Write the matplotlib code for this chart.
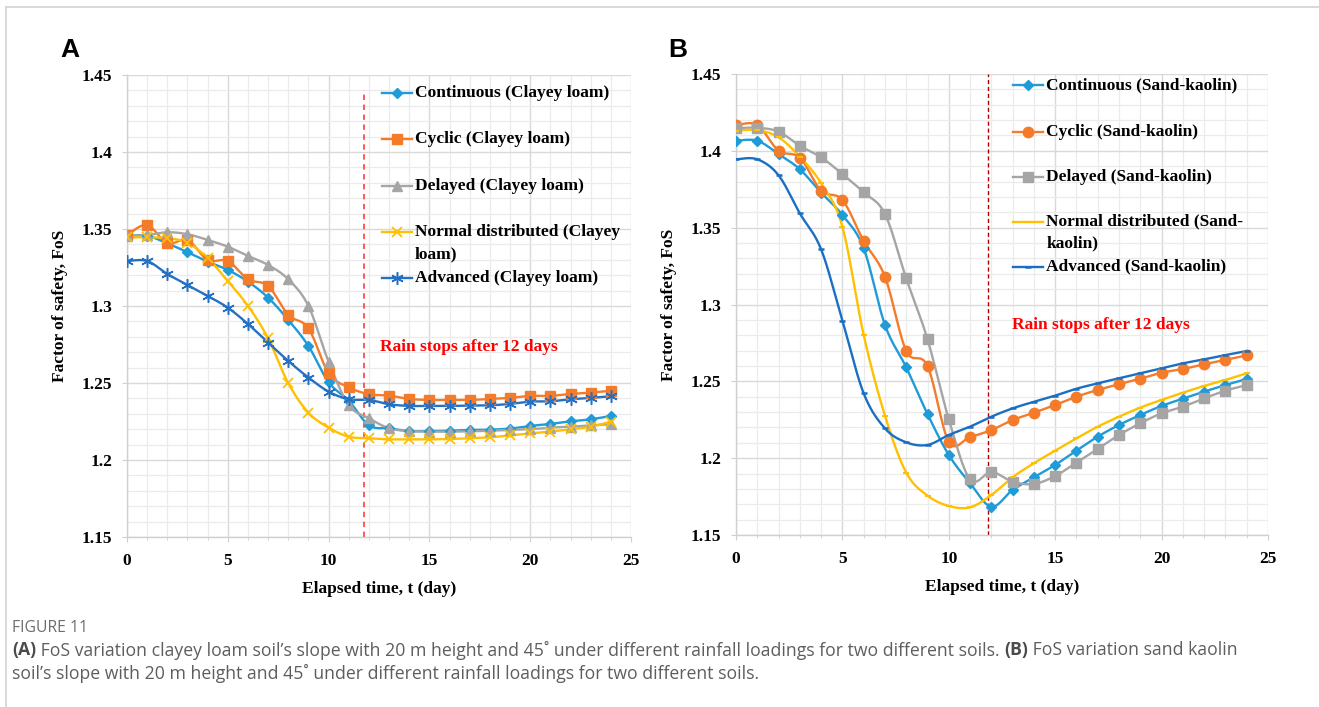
import numpy as np
import matplotlib
matplotlib.use("Agg")
import matplotlib.pyplot as plt
from matplotlib.lines import Line2D
from matplotlib.ticker import MultipleLocator, FuncFormatter

# ==========================================
# DATOS
# ==========================================
days = list(range(25))

# Panel A - Clayey loam
cont_A = [1.3455, 1.3455, 1.3407, 1.3349, 1.3288, 1.3234, 1.3158, 1.3054, 1.2909, 1.2740, 1.2505, 1.2385, 1.2225,
          1.2206, 1.2188, 1.2188, 1.2190, 1.2195, 1.2197, 1.2204, 1.2221, 1.2234, 1.2251, 1.2264, 1.2286]
cyc_A = [1.3461, 1.3526, 1.3407, 1.3429, 1.3299, 1.3292, 1.3173, 1.3130, 1.2942, 1.2855, 1.2563, 1.2472, 1.2427,
         1.2418, 1.2396, 1.2390, 1.2390, 1.2390, 1.2396, 1.2403, 1.2416, 1.2416, 1.2429, 1.2437, 1.2450]
del_A = [1.3455, 1.3460, 1.3479, 1.3466, 1.3429, 1.3385, 1.3325, 1.3266, 1.3173, 1.3000, 1.2638, 1.2357, 1.2271,
         1.2206, 1.2188, 1.2184, 1.2184, 1.2186, 1.2190, 1.2195, 1.2200, 1.2210, 1.2216, 1.2225, 1.2232]
norm_A = [1.3446, 1.3446, 1.3440, 1.3411, 1.3310, 1.3162, 1.3000, 1.2790, 1.2498, 1.2307, 1.2210, 1.2151, 1.2141,
          1.2134, 1.2134, 1.2134, 1.2136, 1.2141, 1.2147, 1.2160, 1.2173, 1.2184, 1.2200, 1.2216, 1.2249]
adv_A = [1.3292, 1.3292, 1.3208, 1.3136, 1.3065, 1.2989, 1.2883, 1.2762, 1.2643, 1.2535, 1.2444, 1.2394, 1.2390,
         1.2362, 1.2351, 1.2351, 1.2351, 1.2353, 1.2355, 1.2364, 1.2379, 1.2381, 1.2394, 1.2403, 1.2414]

# Panel B - Sand-kaolin
cont_B = [1.4066, 1.4066, 1.3979, 1.3880, 1.3728, 1.3582, 1.3366, 1.2867, 1.2591, 1.2287, 1.2021, 1.1837, 1.1684,
          1.1793, 1.1876, 1.1956, 1.2049, 1.2140, 1.2216, 1.2281, 1.2340, 1.2387, 1.2433, 1.2476, 1.2515]
cyc_B = [1.4168, 1.4168, 1.4001, 1.3955, 1.3741, 1.3680, 1.3413, 1.3181, 1.2699, 1.2600, 1.2107, 1.2138, 1.2183,
         1.2248, 1.2296, 1.2346, 1.2400, 1.2444, 1.2481, 1.2517, 1.2556, 1.2580, 1.2611, 1.2639, 1.2669]
del_B = [1.4147, 1.4150, 1.4125, 1.4033, 1.3958, 1.3849, 1.3730, 1.3589, 1.3170, 1.2774, 1.2253, 1.1862, 1.1910,
         1.1847, 1.1832, 1.1884, 1.1971, 1.2060, 1.2151, 1.2227, 1.2292, 1.2335, 1.2389, 1.2439, 1.2476]
norm_B = [1.4131, 1.4135, 1.4088, 1.3962, 1.3789, 1.3506, 1.2802, 1.2277, 1.1906, 1.1756, 1.1689, 1.1680, 1.1760,
          1.1876, 1.1967, 1.2049, 1.2129, 1.2205, 1.2270, 1.2329, 1.2379, 1.2426, 1.2470, 1.2509, 1.2552]
adv_B = [1.3945, 1.3945, 1.3841, 1.3593, 1.3359, 1.2895, 1.2422, 1.2194, 1.2103, 1.2086, 1.2151, 1.2205, 1.2270,
         1.2324, 1.2367, 1.2407, 1.2452, 1.2487, 1.2520, 1.2552, 1.2585, 1.2617, 1.2643, 1.2671, 1.2697]

labels_A = ["Continuous (Clayey loam)", "Cyclic (Clayey loam)", "Delayed (Clayey loam)",
            "Normal distributed (Clayey\nloam)", "Advanced (Clayey loam)"]
labels_B = ["Continuous (Sand-kaolin)", "Cyclic (Sand-kaolin)", "Delayed (Sand-kaolin)",
            "Normal distributed (Sand-\nkaolin)", "Advanced (Sand-kaolin)"]

RAIN_STOP_A = 11.75
RAIN_STOP_B = 11.85
RAIN_TEXT = "Rain stops after 12 days"

# estilos: (color, marker, markersize, markeredgewidth)
STYLES_A = [("#1F9BD7", "D", 5.5, 1), ("#F47B2A", "s", 6.5, 1), ("#A5A5A5", "^", 7, 1),
            ("#FFC000", "x", 7, 1.3), ("#2471C4", (6, 2, 0), 9, 1.1)]
STYLES_B = [("#1F9BD7", "D", 5.5, 1), ("#F47B2A", "o", 7.5, 1), ("#A5A5A5", "s", 7.5, 1),
            ("#FFC000", "_", 5, 1.5), ("#1B6FC2", "_", 5, 1.8)]

SERIF = "Liberation Serif"
FS = 12.5


def smooth(x, y, n=16):
    # curva suavizada tipo Excel (Bezier con puntos de control 1/6)
    x = np.asarray(x, float)
    y = np.asarray(y, float)
    px = np.concatenate([[x[0]], x, [x[-1]]])
    py = np.concatenate([[y[0]], y, [y[-1]]])
    t = np.linspace(0, 1, n, endpoint=False)
    xs, ys = [], []
    for i in range(len(x) - 1):
        p0 = np.array([px[i], py[i]])
        p1 = np.array([px[i + 1], py[i + 1]])
        p2 = np.array([px[i + 2], py[i + 2]])
        p3 = np.array([px[i + 3], py[i + 3]])
        c1 = p1 + (p2 - p0) / 6
        c2 = p2 - (p3 - p1) / 6
        b = ((1 - t) ** 3)[:, None] * p1 + (3 * (1 - t) ** 2 * t)[:, None] * c1 \
            + (3 * (1 - t) * t ** 2)[:, None] * c2 + (t ** 3)[:, None] * p2
        xs.extend(b[:, 0])
        ys.extend(b[:, 1])
    xs.append(x[-1])
    ys.append(y[-1])
    return np.array(xs), np.array(ys)


def style_axes(ax):
    ax.set_xlim(0, 25)
    ax.set_ylim(1.15, 1.45)
    ax.xaxis.set_major_locator(MultipleLocator(5))
    ax.xaxis.set_minor_locator(MultipleLocator(1))
    ax.yaxis.set_major_locator(MultipleLocator(0.05))
    ax.yaxis.set_minor_locator(MultipleLocator(0.01))
    ax.yaxis.set_major_formatter(FuncFormatter(lambda v, p: "%g" % round(v, 2)))
    ax.grid(which="major", color="#D9D9D9", lw=1.0)
    ax.grid(which="minor", color="#EBEBEB", lw=0.9)
    ax.set_axisbelow(True)
    for s in ["top", "right"]:
        ax.spines[s].set_visible(False)
    for s in ["left", "bottom"]:
        ax.spines[s].set_color("#D0D0D0")
        ax.spines[s].set_linewidth(1.0)
    ax.tick_params(axis="both", which="both", color="#D0D0D0", direction="out")
    ax.tick_params(axis="y", which="major", length=3.5, pad=7)
    ax.tick_params(axis="y", which="minor", length=0)
    ax.tick_params(axis="x", which="major", length=3.5, pad=8)
    ax.tick_params(axis="x", which="minor", length=2.5)
    for lab in ax.get_xticklabels() + ax.get_yticklabels():
        lab.set_fontfamily(SERIF)
        lab.set_fontweight("bold")
        lab.set_fontsize(FS)
    ax.set_xlabel("Elapsed time, t (day)", fontfamily=SERIF, fontweight="bold", fontsize=FS, labelpad=9)
    ax.set_ylabel("Factor of safety, FoS", fontfamily=SERIF, fontweight="bold", fontsize=FS, labelpad=10)


def draw_series(ax, series, styles):
    for y, (c, m, ms, mew) in zip(series, styles):
        sx, sy = smooth(days, y)
        ax.plot(sx, sy, color=c, lw=1.7, zorder=3)
        ax.plot(days, y, ls="none", marker=m, ms=ms, color=c, mec=c, mew=mew, zorder=4)


def draw_legend(ax, labels, styles, x0, x1, xt, rows):
    # leyenda manual estilo Excel
    for lab, (c, m, ms, mew), yr in zip(labels, styles, rows):
        ax.add_line(Line2D([x0, (x0 + x1) / 2, x1], [yr, yr, yr], transform=ax.transAxes, color=c, lw=1.7,
                           marker=m, ms=ms, mew=mew, mec=c, markevery=[1], clip_on=False, zorder=5))
        for k, line in enumerate(lab.split("\n")):
            ax.text(xt, yr - k * 0.048, line, transform=ax.transAxes, va="center", ha="left",
                    fontfamily=SERIF, fontweight="bold", fontsize=FS, color="black", zorder=5)


fig = plt.figure(figsize=(13.19, 7.07), dpi=100)

axA = fig.add_axes([0.0963, 0.2405, 0.3821, 0.6534])
axB = fig.add_axes([0.5580, 0.2433, 0.4033, 0.6520])

# ---------- Panel A ----------
draw_series(axA, [cont_A, cyc_A, del_A, norm_A, adv_A], STYLES_A)
axA.plot([RAIN_STOP_A, RAIN_STOP_A], [1.15, 1.4403], color="#FF4B4B", lw=1.3, ls=(0, (3, 2.5)), zorder=2)
axA.text(0.502, 0.412, RAIN_TEXT, transform=axA.transAxes, color="#FF0000", fontfamily=SERIF,
         fontweight="bold", fontsize=FS, va="center", ha="left")
style_axes(axA)
draw_legend(axA, labels_A, STYLES_A, 0.506, 0.565, 0.571, [0.961, 0.861, 0.760, 0.660, 0.561])

# ---------- Panel B ----------
draw_series(axB, [cont_B, cyc_B, del_B, norm_B, adv_B], STYLES_B)
axB.plot([RAIN_STOP_B, RAIN_STOP_B], [1.15, 1.45], color="#B00000", lw=1.0, ls=(0, (3, 2)), zorder=2)
axB.text(0.518, 0.4555, RAIN_TEXT, transform=axB.transAxes, color="#FF0000", fontfamily=SERIF,
         fontweight="bold", fontsize=FS, va="center", ha="left")
style_axes(axB)
draw_legend(axB, labels_B, STYLES_B, 0.521, 0.577, 0.583, [0.976, 0.875, 0.777, 0.680, 0.582])

# letras de panel
fig.text(0.0455, 0.929, "A", fontfamily="Liberation Sans", fontweight="bold", fontsize=19, va="center")
fig.text(0.5065, 0.929, "B", fontfamily="Liberation Sans", fontweight="bold", fontsize=19, va="center")

# marco
fig.add_artist(Line2D([0.0045, 1.0], [0.990, 0.990], transform=fig.transFigure, color="#D6D6D6", lw=1.3))
fig.add_artist(Line2D([0.0045, 0.0045], [0.0, 0.990], transform=fig.transFigure, color="#D6D6D6", lw=1.3))

# ---------- Pie de figura ----------
CAP = "Open Sans"
fig.text(0.0091, 0.112, "FIGURE 11", fontfamily=CAP, fontsize=11.3, color="#6E6E6E", va="center")

renderer = fig.canvas.get_renderer()


def rich_line(x, y, pieces):
    for txt, bold in pieces:
        t = fig.text(x, y, txt, fontfamily=CAP, fontsize=12.7, va="center", ha="left",
                     fontweight="bold" if bold else "normal", color="#4A4A4A" if bold else "#5E5E5E")
        bb = t.get_window_extent(renderer)
        x += bb.width / fig.bbox.width


rich_line(0.0091, 0.0806, [("(A)", True),
                           (" FoS variation clayey loam soil\u2019s slope with 20 m height and 45\u02da under different "
                            "rainfall loadings for two different soils. ", False),
                           ("(B)", True), (" FoS variation sand kaolin", False)])
rich_line(0.0091, 0.0467, [("soil\u2019s slope with 20 m height and 45\u02da under different rainfall loadings "
                            "for two different soils.", False)])

fig.savefig("out.png", dpi=100)
